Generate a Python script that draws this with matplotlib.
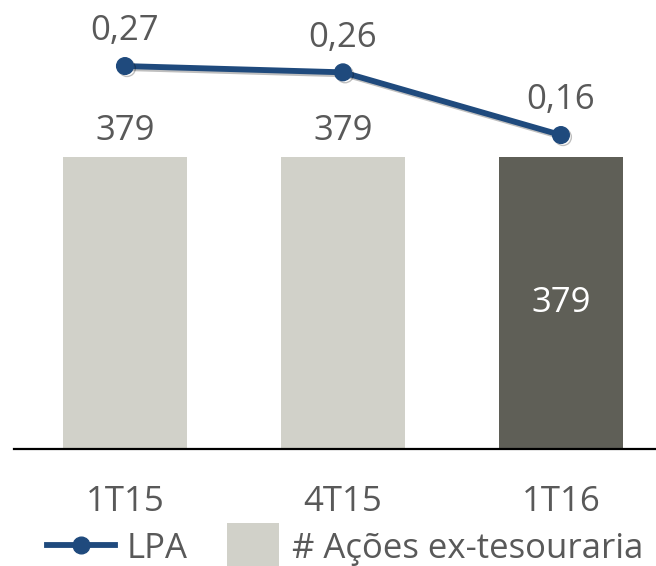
import numpy as np
import matplotlib.pyplot as plt
import matplotlib.patheffects as pe
from matplotlib.patches import Patch, Rectangle
from matplotlib.lines import Line2D
from matplotlib.legend_handler import HandlerPatch

plt.rcParams['font.family'] = ['Open Sans', 'DejaVu Sans']

periods = ['1T15', '4T15', '1T16']
acoes = [379, 379, 379]
lpa = [0.27, 0.26, 0.16]
lpa_labels = ['0,27', '0,26', '0,16']

grey_txt = '#595959'
light_bar = '#D1D1C9'
dark_bar = '#5F5F57'
blue = '#1F4A7D'

fig = plt.figure(figsize=(6.56, 5.66), dpi=100)
ax = fig.add_axes([14 / 656, 117 / 566, 642 / 656, 449 / 566])

x = np.arange(len(periods))
colors = [light_bar, light_bar, dark_bar]
bars = ax.bar(x, acoes, width=0.57, color=colors, zorder=2)

ax.set_ylim(0, 582.8)
ax.set_xlim(-0.509, 2.436)
for s in ['top', 'right', 'left']:
    ax.spines[s].set_visible(False)
ax.spines['bottom'].set_linewidth(1.6)
ax.spines['bottom'].set_color('black')
ax.set_yticks([])
ax.set_xticks(x)
ax.set_xticklabels(periods, fontsize=25, color=grey_txt)
ax.tick_params(axis='x', length=0, pad=26)

# bar labels
for i, (b, v) in enumerate(zip(bars, acoes)):
    if i < 2:
        ax.annotate(str(v), (b.get_x() + b.get_width() / 2, v),
                    xytext=(0, 19), textcoords='offset points',
                    ha='center', va='center', fontsize=25, color=grey_txt)
    else:
        ax.text(b.get_x() + b.get_width() / 2, v / 2, str(v),
                ha='center', va='center', fontsize=25, color='white')

ax2 = ax.twinx()
ax2.set_ylim(-0.3405, 0.3753)
ax2.axis('off')
ax2.plot(x, lpa, color=blue, lw=4.2, marker='o', markersize=12,
         solid_capstyle='round', zorder=3,
         path_effects=[pe.SimpleLineShadow(offset=(1.5, -1.5), alpha=0.25),
                       pe.Normal()])
for xi, v, lab in zip(x, lpa, lpa_labels):
    ax2.annotate(lab, (xi, v), xytext=(0, 25), textcoords='offset points',
                 ha='center', va='center', fontsize=25, color=grey_txt)


def small_box(legend, orig_handle, xdescent, ydescent, width, height, fontsize):
    w = width * 0.78
    h = height * 1.6
    return Rectangle((-xdescent + width - w, -ydescent - height * 0.3), w, h)


handles = [Line2D([], [], color=blue, lw=4.2, marker='o', markersize=12),
           Patch(facecolor=light_bar)]
leg = fig.legend(handles, ['LPA', '# Ações ex-tesouraria'], loc='lower center',
                 bbox_to_anchor=(0.526, -0.055), ncol=2, frameon=False,
                 fontsize=25, handlelength=1.95, handleheight=0.9,
                 columnspacing=0.68, handletextpad=0.35,
                 handler_map={Patch: HandlerPatch(patch_func=small_box)})
for t in leg.get_texts():
    t.set_color(grey_txt)

fig.savefig('out.png', dpi=100)
